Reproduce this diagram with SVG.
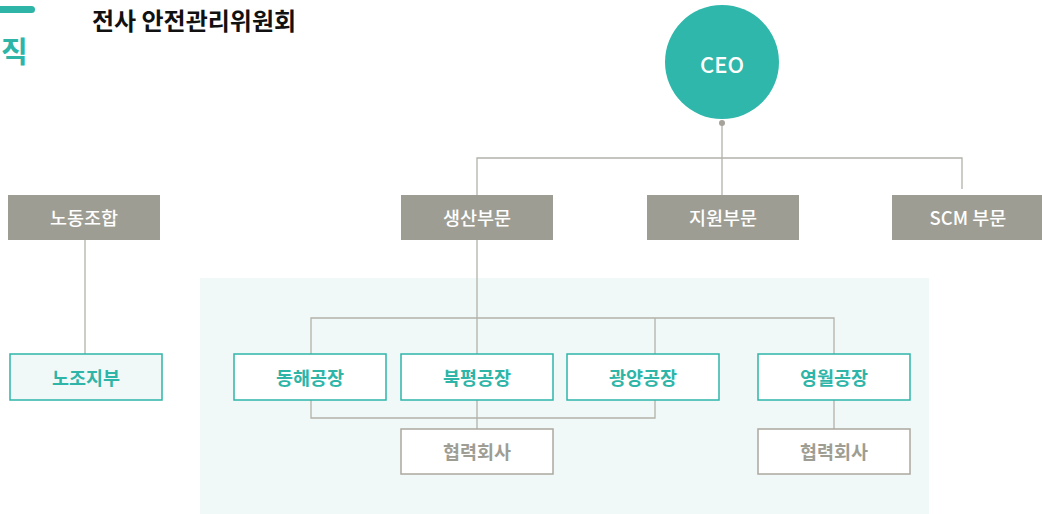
<svg xmlns="http://www.w3.org/2000/svg" width="1042" height="514" viewBox="0 0 1042 514">
<style>
text{font-family:"Noto Sans CJK KR","Noto Sans",sans-serif;text-anchor:middle;dominant-baseline:central}
.g rect{fill:#9e9d94}
.g text{fill:#fff;font-size:18.5px;font-weight:500}
.f rect{fill:#fff;stroke:#2eb5a8;stroke-width:1.5}
.f text{fill:#2eb5a8;font-size:18.5px;font-weight:700}
.p rect{fill:#fff;stroke:#aaa89f;stroke-width:1.5}
.p text{fill:#9e9d94;font-size:18.5px;font-weight:700}
.c line,.c polyline{stroke:#b3b1a9;stroke-width:1.3;fill:none}
</style>
<rect x="-6" y="6" width="41" height="7" rx="3.5" fill="#2eb5a8"/>
<text x="1" y="50" style="font-size:29px;font-weight:700;fill:#2eb5a8;text-anchor:start">직</text>
<text x="194" y="19" style="font-size:24px;font-weight:700;fill:#111">전사 안전관리위원회</text>
<rect x="200" y="278" width="729" height="236" fill="#f1f9f8"/>
<g class="c" id="connectors">
<line x1="722" y1="123" x2="722" y2="195"/>
<polyline points="477,195 477,158 962,158 962,189"/>
<line x1="85" y1="240" x2="85" y2="354"/>
<line x1="477" y1="240" x2="477" y2="354"/>
<polyline points="311,354 311,318 834,318 834,354"/>
<line x1="655" y1="318" x2="655" y2="354"/>
<polyline points="311,400 311,418 655,418 655,400"/>
<line x1="477" y1="400" x2="477" y2="429"/>
<line x1="834" y1="400" x2="834" y2="429"/>
<circle cx="722" cy="123" r="3" fill="#a5a39a"/>
</g>
<g id="ceo"><circle cx="722" cy="62" r="57" fill="#2eb7aa"/><text x="722" y="63" style="fill:#fff;font-size:22px;font-weight:500">CEO</text></g>
<g id="union" class="g"><rect x="8" y="195" width="152" height="45"/><text x="84" y="217">노동조합</text></g>
<g id="production" class="g"><rect x="401" y="195" width="152" height="45"/><text x="477" y="217">생산부문</text></g>
<g id="support" class="g"><rect x="647" y="195" width="152" height="45"/><text x="723" y="217">지원부문</text></g>
<g id="scm" class="g"><rect x="892" y="195" width="152" height="45"/><text x="968" y="217">SCM 부문</text></g>
<g id="branch" class="f"><rect x="10" y="354" width="152" height="46" style="fill:#f0f9f8"/><text x="86" y="377">노조지부</text></g>
<g id="donghae" class="f"><rect x="234" y="354" width="152" height="46"/><text x="310" y="377">동해공장</text></g>
<g id="bukpyeong" class="f"><rect x="401" y="354" width="152" height="46"/><text x="477" y="377">북평공장</text></g>
<g id="gwangyang" class="f"><rect x="567" y="354" width="152" height="46"/><text x="643" y="377">광양공장</text></g>
<g id="yeongwol" class="f"><rect x="758" y="354" width="152" height="46"/><text x="834" y="377">영월공장</text></g>
<g id="partner1" class="p"><rect x="401" y="429" width="152" height="45"/><text x="477" y="451">협력회사</text></g>
<g id="partner2" class="p"><rect x="758" y="429" width="152" height="45"/><text x="834" y="451">협력회사</text></g>
</svg>
